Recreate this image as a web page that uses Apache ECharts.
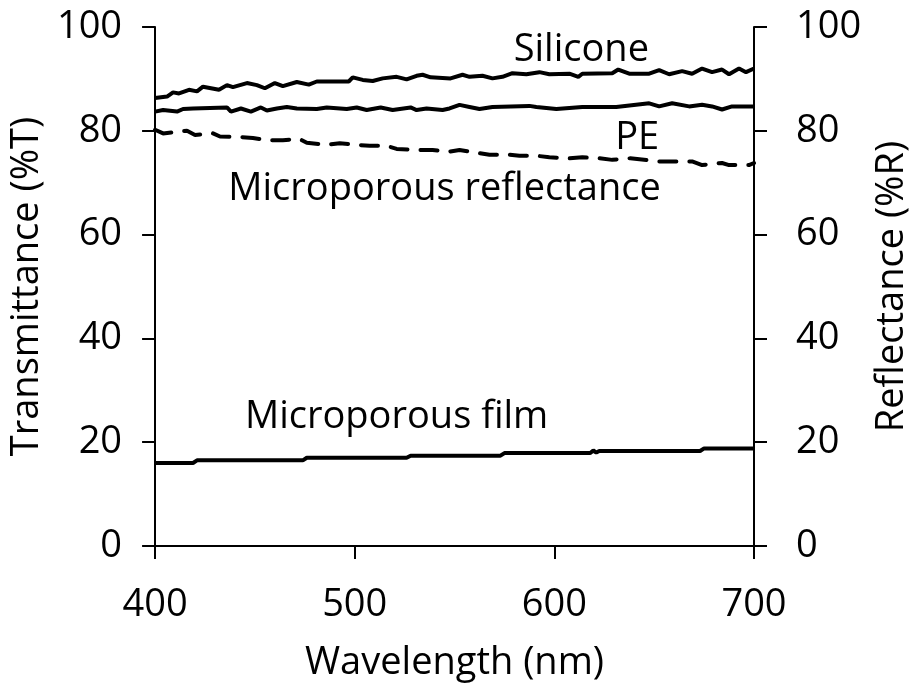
<!DOCTYPE html>
<html>
<head>
<meta charset="utf-8">
<script src="https://cdn.jsdelivr.net/npm/echarts@6/dist/echarts.min.js"></script>
<style>
  html, body { margin: 0; padding: 0; background: #fff; }
  #chart { width: 919px; height: 691px; }
</style>
</head>
<body>
<div id="chart"></div>
<script>
// Wavelength (nm) and transmittance (%T) of the silicone film
const siliconeWl = [400, 406, 409, 412, 417, 421, 424, 428, 432, 436, 439, 446, 451, 455, 460, 464, 471, 477, 481,
  497, 499, 504, 509, 514, 521, 526, 531, 534, 538, 548, 554, 557.5, 564, 569, 574, 579, 586, 592.5, 597.5,
  607.5, 612, 614, 629, 632, 637.5, 647.5, 652.5, 657.5, 664, 669, 674, 679, 684, 687.5, 692.5, 696, 700];
const siliconeT = [86.3, 86.6, 87.4, 87.2, 87.9, 87.6, 88.5, 88.2, 87.9, 88.8, 88.4, 89.2, 88.8, 88.2, 89.2, 88.6, 89.4, 88.9, 89.5,
  89.5, 90.3, 89.8, 89.6, 90.1, 90.4, 89.9, 90.6, 90.8, 90.3, 90.1, 90.8, 90.4, 90.6, 90.1, 90.4, 91.1, 90.9, 91.3, 90.9,
  91.0, 90.4, 91.0, 91.1, 91.8, 91.0, 91.0, 91.7, 90.9, 91.5, 91.0, 92.0, 91.3, 91.8, 90.9, 92.0, 91.3, 92.0];

// PE film transmittance (%T)
const peWl = [400, 404, 411, 414, 419, 436, 438, 443, 448, 453, 456, 461, 466, 471, 481, 486, 496, 501, 506, 513,
  519, 528, 531, 536, 544, 547.5, 552.5, 557.5, 562.5, 569, 587.5, 591, 601, 614, 631, 647.5, 652.5, 659, 667.5,
  674, 679, 684, 689, 700];
const peT = [83.7, 84.0, 83.7, 84.2, 84.3, 84.5, 83.7, 84.3, 83.7, 84.5, 83.9, 84.3, 84.6, 84.3, 84.2, 84.5, 84.2, 84.5, 84.0, 84.5,
  84.0, 84.5, 84.0, 84.3, 84.0, 84.3, 85.0, 84.6, 84.2, 84.6, 84.8, 84.6, 84.2, 84.6, 84.6, 85.3, 84.7, 85.3, 84.7,
  85.0, 84.7, 84.1, 84.7, 84.7];

// Microporous film reflectance (%R)
const reflWl = [400, 404, 416, 420, 429, 432.5, 442.5, 449, 456, 464, 472.5, 476, 486, 492.5, 501, 507.5, 516, 521,
  532.5, 539, 547.5, 552.5, 562.5, 567.5, 577.5, 582.5, 591, 597.5, 607.5, 614, 622.5, 629, 638, 652.5, 661, 669,
  674, 684, 687.5, 697.5, 700];
const reflR = [80.2, 79.5, 80.0, 79.2, 79.5, 78.9, 78.8, 78.6, 78.2, 78.2, 78.4, 77.7, 77.3, 77.6, 77.3, 77.1, 77.1, 76.5,
  76.3, 76.3, 76.0, 76.3, 75.7, 75.4, 75.4, 75.2, 75.2, 74.9, 74.7, 74.9, 74.7, 74.4, 74.7, 74.1, 74.1, 74.1,
  73.4, 73.8, 73.4, 73.4, 73.8];

// Microporous film transmittance (%T), a stepped trace
const filmWl = [400, 419, 421, 474, 476, 526, 528, 573, 575, 618, 619.5, 621, 622.5, 673, 675, 700];
const filmT = [16.0, 16.0, 16.5, 16.5, 17.0, 17.0, 17.4, 17.4, 17.9, 17.9, 18.4, 18.0, 18.3, 18.3, 18.8, 18.8];

// Axis ranges and ticks
const xMin = 400, xMax = 700, xStep = 100;
const yMin = 0, yMax = 100, yStep = 20;

// Curve captions and where they sit (nm, %)
const captions = [
  { text: 'Silicone', at: [613.5, 95.6] },
  { text: 'PE', at: [641.5, 78.6] },
  { text: 'Microporous reflectance', at: [545, 68.8] },
  { text: 'Microporous film', at: [521, 24.9] }
];

const FONT = '"Open Sans", "DejaVu Sans", sans-serif';
const FS = 38;
const INK = '#000';
const pairs = (xs, ys) => xs.map((x, i) => [x, ys[i]]);

function captionMark(c) {
  return {
    silent: true,
    symbol: 'circle',
    symbolSize: 0,
    label: { show: true, position: 'inside', formatter: c.text, fontFamily: FONT, fontSize: FS, color: INK },
    data: [{ coord: c.at }]
  };
}

const axisLineStyle = { show: true, lineStyle: { color: INK, width: 2 } };
const tickStyle = { show: true, inside: false, length: 13, lineStyle: { color: INK, width: 2 } };
const labelStyle = { fontFamily: FONT, fontSize: FS, color: INK };

function yAxis(side, name, gap, margin) {
  return {
    type: 'value', position: side, min: yMin, max: yMax, interval: yStep,
    name: name, nameLocation: 'middle', nameRotate: 90, nameGap: gap,
    nameTextStyle: { fontFamily: FONT, fontSize: FS, color: INK },
    axisLine: axisLineStyle, axisTick: tickStyle,
    axisLabel: Object.assign({ margin: margin }, labelStyle),
    splitLine: { show: false }
  };
}

const lineBase = { type: 'line', showSymbol: false, symbol: 'none', silent: true, animation: false };

const option = {
  animation: false,
  backgroundColor: '#fff',
  grid: { left: 155, right: 164, top: 27, bottom: 145, containLabel: false },
  xAxis: {
    type: 'value', min: xMin, max: xMax, interval: xStep,
    name: 'Wavelength (nm)', nameLocation: 'middle', nameGap: 98,
    nameTextStyle: { fontFamily: FONT, fontSize: FS, color: INK },
    axisLine: axisLineStyle, axisTick: tickStyle,
    axisLabel: Object.assign({ margin: 40 }, labelStyle),
    splitLine: { show: false }
  },
  yAxis: [
    yAxis('left', 'Transmittance (%T)', 101, 33),
    yAxis('right', 'Reflectance (%R)', 119, 42)
  ],
  series: [
    Object.assign({}, lineBase, {
      name: 'Silicone', yAxisIndex: 0, data: pairs(siliconeWl, siliconeT),
      lineStyle: { color: INK, width: 4 }, markPoint: captionMark(captions[0])
    }),
    Object.assign({}, lineBase, {
      name: 'PE', yAxisIndex: 0, data: pairs(peWl, peT),
      lineStyle: { color: INK, width: 4 }, markPoint: captionMark(captions[1])
    }),
    Object.assign({}, lineBase, {
      name: 'Microporous reflectance', yAxisIndex: 1, data: pairs(reflWl, reflR),
      lineStyle: { color: INK, width: 4, type: [17, 13], cap: 'round' }, markPoint: captionMark(captions[2])
    }),
    Object.assign({}, lineBase, {
      name: 'Microporous film', yAxisIndex: 0, data: pairs(filmWl, filmT),
      lineStyle: { color: INK, width: 4 }, markPoint: captionMark(captions[3])
    })
  ]
};

const chart = echarts.init(document.getElementById('chart'), null, { renderer: 'canvas' });
chart.setOption(option);
</script>
</body>
</html>
